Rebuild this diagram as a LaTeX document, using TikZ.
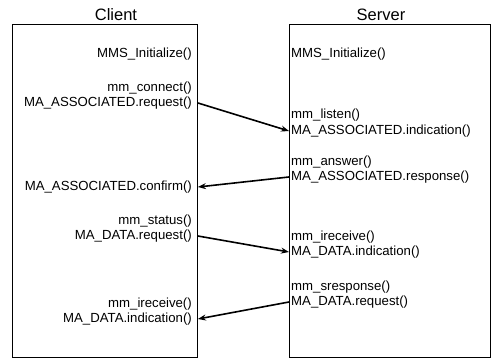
\documentclass[tikz,border=0pt]{standalone}
\usepackage{fontspec}
\setmainfont{Liberation Sans}
\usetikzlibrary{arrows.meta}
\begin{document}
\begin{tikzpicture}[x=1pt,y=-1pt,
  lane/.style={draw, line width=0.9pt, minimum height=333pt, anchor=north west, inner sep=0pt},
  title/.style={font=\fontsize{16.5}{18}\selectfont, anchor=base, inner sep=0pt},
  ctext/.style={font=\fontsize{13.2}{15}\selectfont, anchor=east, inner sep=0pt},
  stext/.style={font=\fontsize{13.2}{15}\selectfont, anchor=west, inner sep=0pt},
  msg/.style={line width=1.6pt, -{Stealth[length=8pt,width=6pt]}}]
\useasboundingbox (0,0) rectangle (493,358);
\node[lane, minimum width=185pt] (client) at (12,24) {};
\node[lane, minimum width=201pt] (server) at (289,24) {};
\node[title] (ct) at (116,21) {Client};
\node[title] (st) at (381,21) {Server};
% client texts
\node[ctext] (c1) at (192,54) {MMS\_Initialize()};
\node[ctext] (c2) at (192,88) {mm\_connect()};
\node[ctext] (c3) at (192,103) {MA\_ASSOCIATED.request()};
\node[ctext] (c4) at (192,187) {MA\_ASSOCIATED.confirm()};
\node[ctext] (c5) at (192,221) {mm\_status()};
\node[ctext] (c6) at (192,236) {MA\_DATA.request()};
\node[ctext] (c7) at (192,304) {mm\_ireceive()};
\node[ctext] (c8) at (192,319) {MA\_DATA.indication()};
% server texts
\node[stext] (s1) at (291,54) {MMS\_Initialize()};
\node[stext] (s2) at (291,115) {mm\_listen()};
\node[stext] (s3) at (291,131) {MA\_ASSOCIATED.indication()};
\node[stext] (s4) at (291,162) {mm\_answer()};
\node[stext] (s5) at (291,177) {MA\_ASSOCIATED.response()};
\node[stext] (s6) at (291,237) {mm\_ireceive()};
\node[stext] (s7) at (291,252) {MA\_DATA.indication()};
\node[stext] (s8) at (291,287) {mm\_sresponse()};
\node[stext] (s9) at (291,302) {MA\_DATA.request()};
% messages
\draw[msg] (c3.east -| client.east) -- (s3.west -| server.west);
\draw[msg] (s5.west -| server.west) -- (c4.east -| client.east);
\draw[msg] (c6.east -| client.east) -- (s7.west -| server.west);
\draw[msg] (s9.west -| server.west) -- (c8.east -| client.east);
\end{tikzpicture}
\end{document}
